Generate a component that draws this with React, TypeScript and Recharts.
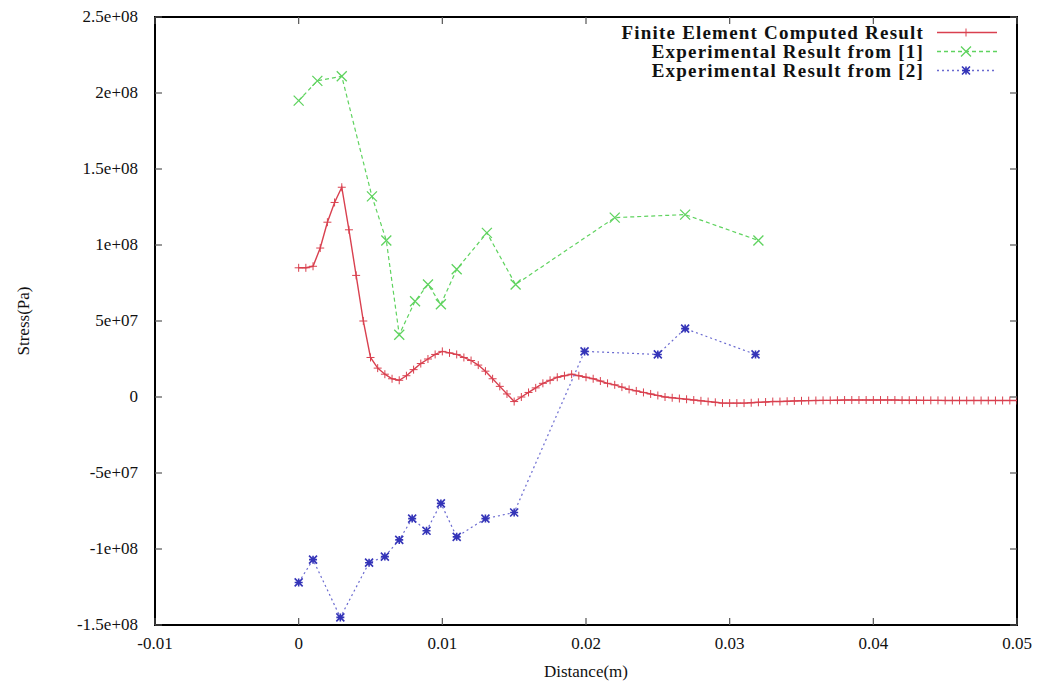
import React from 'react';
import { LineChart, Line, XAxis, YAxis, ReferenceArea } from 'recharts';

// finite element result, sampled every 0.5 mm
const femDistance = [
  0, 0.0005, 0.001, 0.0015, 0.002, 0.0025, 0.003, 0.0035, 0.004, 0.0045,
  0.005, 0.0055, 0.006, 0.0065, 0.007, 0.0075, 0.008, 0.0085, 0.009, 0.0095,
  0.01, 0.0105, 0.011, 0.0115, 0.012, 0.0125, 0.013, 0.0135, 0.014, 0.0145,
  0.015, 0.0155, 0.016, 0.0165, 0.017, 0.0175, 0.018, 0.0185, 0.019, 0.0195,
  0.02, 0.0205, 0.021, 0.0215, 0.022, 0.0225, 0.023, 0.0235, 0.024, 0.0245,
  0.025, 0.0255, 0.026, 0.0265, 0.027, 0.0275, 0.028, 0.0285, 0.029, 0.0295,
  0.03, 0.0305, 0.031, 0.0315, 0.032, 0.0325, 0.033, 0.0335, 0.034, 0.0345,
  0.035, 0.0355, 0.036, 0.0365, 0.037, 0.0375, 0.038, 0.0385, 0.039, 0.0395,
  0.04, 0.0405, 0.041, 0.0415, 0.042, 0.0425, 0.043, 0.0435, 0.044, 0.0445,
  0.045, 0.0455, 0.046, 0.0465, 0.047, 0.0475, 0.048, 0.0485, 0.049, 0.0495,
  0.05,
];
const femStress = [
  85e6, 85e6, 86e6, 98e6, 115e6, 128e6, 138e6, 110e6, 80e6, 50e6,
  26e6, 19e6, 15e6, 12e6, 11e6, 14e6, 18e6, 22e6, 25e6, 28e6,
  30e6, 29e6, 28e6, 26e6, 24e6, 21e6, 17e6, 12e6, 7e6, 2e6,
  -3e6, 0, 3e6, 6e6, 9e6, 11e6, 13e6, 14e6, 15e6, 14e6,
  13e6, 12e6, 10.5e6, 9e6, 8e6, 6.5e6, 5e6, 4e6, 3e6, 2e6,
  1e6, 0, -0.5e6, -1e6, -1.5e6, -2e6, -2.5e6, -3e6, -3.5e6, -4e6,
  -4e6, -4e6, -4e6, -3.8e6, -3.5e6, -3.3e6, -3e6, -3e6, -2.8e6, -2.6e6,
  -2.5e6, -2.4e6, -2.3e6, -2.2e6, -2.2e6, -2.1e6, -2e6, -2e6, -2e6, -2e6,
  -2e6, -2e6, -2e6, -2e6, -2.1e6, -2.1e6, -2.1e6, -2.2e6, -2.2e6, -2.2e6,
  -2.3e6, -2.3e6, -2.3e6, -2.3e6, -2.3e6, -2.3e6, -2.3e6, -2.3e6, -2.3e6, -2.3e6,
  -2.3e6,
];

// experimental result from [1]
const exp1Distance = [0, 0.0013, 0.003, 0.0051, 0.0061, 0.007, 0.0081, 0.009, 0.0099, 0.011, 0.0131, 0.0151, 0.022, 0.0269, 0.032];
const exp1Stress = [195e6, 208e6, 211e6, 132e6, 103e6, 41e6, 63e6, 74e6, 61e6, 84e6, 108e6, 74e6, 118e6, 120e6, 103e6];

// experimental result from [2]
const exp2Distance = [0, 0.001, 0.0029, 0.0049, 0.006, 0.007, 0.0079, 0.0089, 0.0099, 0.011, 0.013, 0.015, 0.0199, 0.025, 0.0269, 0.0318];
const exp2Stress = [-122e6, -107e6, -145e6, -109e6, -105e6, -94e6, -80e6, -88e6, -70e6, -92e6, -80e6, -76e6, 30e6, 28e6, 45e6, 28e6];

const xTicks = [-0.01, 0, 0.01, 0.02, 0.03, 0.04, 0.05];
const xTickLabels = ['-0.01', '0', '0.01', '0.02', '0.03', '0.04', '0.05'];
const yTicks = [2.5e8, 2e8, 1.5e8, 1e8, 5e7, 0, -5e7, -1e8, -1.5e8];
const yTickLabels = ['2.5e+08', '2e+08', '1.5e+08', '1e+08', '5e+07', '0', '-5e+07', '-1e+08', '-1.5e+08'];

const seriesNames = ['Finite Element Computed Result', 'Experimental Result from [1]', 'Experimental Result from [2]'];

const femData = femDistance.map((x, i) => ({ x, y: femStress[i] }));
const exp1Data = exp1Distance.map((x, i) => ({ x, y: exp1Stress[i] }));
const exp2Data = exp2Distance.map((x, i) => ({ x, y: exp2Stress[i] }));

const FONT = '"Liberation Serif", "DejaVu Serif", serif';
const RED = '#d9404f';
const GREEN = '#5fd35f';
const BLUE = '#3434b8';
const BLUE_LINE = '#6a6ad0';
const AXIS = '#000000';
const TICK_COLOR = '#555555';
const TEXT = '#111111';
const TICK = 7;

const labelFor = (ticks: number[], labels: string[], v: number) => {
  const i = ticks.findIndex((t) => Math.abs(t - v) <= 1e-9 * Math.max(1, Math.abs(t)));
  return i >= 0 ? labels[i] : String(v);
};

// tick label plus an inward tick mark drawn as a path
const BottomTick = (props: any) => {
  const { x, y, payload } = props;
  return (
    <g>
      <path d={`M${x},${y}V${y - TICK}`} stroke={TICK_COLOR} strokeWidth={1.2} fill="none" />
      <text x={x} y={y + 24} textAnchor="middle" fontFamily={FONT} fontSize={17} fill={TEXT}>
        {labelFor(xTicks, xTickLabels, payload.value)}
      </text>
    </g>
  );
};

const LeftTick = (props: any) => {
  const { x, y, payload } = props;
  return (
    <g>
      <path d={`M${x},${y}H${x + TICK}`} stroke={TICK_COLOR} strokeWidth={1.2} fill="none" />
      <text x={x - 17} y={y + 5} textAnchor="end" fontFamily={FONT} fontSize={17} fill={TEXT}>
        {labelFor(yTicks, yTickLabels, payload.value)}
      </text>
    </g>
  );
};

const TopTick = (props: any) => {
  const { x, y } = props;
  return <path d={`M${x},${y}V${y + TICK}`} stroke={TICK_COLOR} strokeWidth={1.2} fill="none" />;
};

const RightTick = (props: any) => {
  const { x, y } = props;
  return <path d={`M${x},${y}H${x - TICK}`} stroke={TICK_COLOR} strokeWidth={1.2} fill="none" />;
};

const PlusDot = (props: any) => {
  const { cx, cy, index } = props;
  if (cx == null || cy == null) return <g key={index} />;
  return <path key={index} d={`M${cx - 4},${cy}h8M${cx},${cy - 4}v8`} stroke={RED} strokeWidth={1} fill="none" />;
};

const CrossDot = (props: any) => {
  const { cx, cy, index } = props;
  if (cx == null || cy == null) return <g key={index} />;
  return <path key={index} d={`M${cx - 5},${cy - 5}l10,10M${cx - 5},${cy + 5}l10,-10`} stroke={GREEN} strokeWidth={1.3} fill="none" />;
};

const StarDot = (props: any) => {
  const { cx, cy, index } = props;
  if (cx == null || cy == null) return <g key={index} />;
  return (
    <path
      key={index}
      d={`M${cx - 4},${cy - 4}l8,8M${cx - 4},${cy + 4}l8,-8M${cx - 4},${cy}h8M${cx},${cy - 4}v8`}
      stroke={BLUE}
      strokeWidth={1.6}
      fill="none"
    />
  );
};

const legendStyles = [
  { color: RED, dash: undefined as string | undefined, Dot: PlusDot },
  { color: GREEN, dash: '4 3', Dot: CrossDot },
  { color: BLUE_LINE, dash: '2 3', Dot: StarDot },
];

// drawn outside the chart so it does not take space from the plot
const ChartLegend = () => (
  <div style={{ position: 'absolute', right: 59, top: 23, display: 'flex', flexDirection: 'column', fontFamily: FONT }}>
    {seriesNames.map((name, i) => {
      const s = legendStyles[i];
      const Dot = s.Dot;
      return (
        <div key={name} style={{ display: 'flex', alignItems: 'center', justifyContent: 'flex-end', height: 19 }}>
          <span style={{ fontSize: 19, fontWeight: 'bold', letterSpacing: '1.2px', color: TEXT, whiteSpace: 'nowrap', lineHeight: '19px' }}>
            {name}
          </span>
          <svg width={62} height={19} style={{ marginLeft: 12 }}>
            <line x1={1} y1={9.5} x2={61} y2={9.5} stroke={s.color} strokeWidth={1.3} strokeDasharray={s.dash} />
            <Dot cx={30} cy={9.5} index={0} />
          </svg>
        </div>
      );
    })}
  </div>
);

const AxisTitleY = (props: any) => {
  const vb = props.viewBox;
  const cx = 29;
  const cy = vb.y + vb.height / 2;
  return (
    <text x={cx} y={cy} transform={`rotate(-90, ${cx}, ${cy})`} textAnchor="middle" fontFamily={FONT} fontSize={17} fill={TEXT}>
      Stress(Pa)
    </text>
  );
};

const AxisTitleX = (props: any) => {
  const vb = props.viewBox;
  const cx = vb.x + vb.width / 2;
  return (
    <text x={cx} y={vb.y + 52} textAnchor="middle" fontFamily={FONT} fontSize={17} fill={TEXT}>
      Distance(m)
    </text>
  );
};

const axisLine = { stroke: AXIS, strokeWidth: 2 };

export default function App() {
  return (
    <div style={{ position: 'absolute', left: 0, top: 0, width: 1057, height: 683, background: '#ffffff' }}>
      <LineChart width={1057} height={683} margin={{ top: 16, right: 39, bottom: 0, left: 0 }}>
        <XAxis
          xAxisId="bottom"
          dataKey="x"
          type="number"
          domain={[-0.01, 0.05]}
          ticks={xTicks}
          tick={<BottomTick />}
          axisLine={axisLine}
          stroke={AXIS}
          tickLine={false}
          tickSize={0}
          tickMargin={0}
          height={58}
          allowDataOverflow
          label={<AxisTitleX />}
        />
        <XAxis
          xAxisId="top"
          orientation="top"
          dataKey="x"
          type="number"
          domain={[-0.01, 0.05]}
          ticks={xTicks}
          tick={<TopTick />}
          axisLine={axisLine}
          stroke={AXIS}
          tickLine={false}
          tickSize={0}
          tickMargin={0}
          height={1}
          allowDataOverflow
        />
        <YAxis
          yAxisId="left"
          type="number"
          domain={[-1.5e8, 2.5e8]}
          ticks={yTicks}
          tick={<LeftTick />}
          axisLine={axisLine}
          stroke={AXIS}
          tickLine={false}
          tickSize={0}
          tickMargin={0}
          width={155}
          allowDataOverflow
          label={<AxisTitleY />}
        />
        <YAxis
          yAxisId="right"
          orientation="right"
          type="number"
          domain={[-1.5e8, 2.5e8]}
          ticks={yTicks}
          tick={<RightTick />}
          axisLine={axisLine}
          stroke={AXIS}
          tickLine={false}
          tickSize={0}
          tickMargin={0}
          width={1}
          allowDataOverflow
        />
        <ReferenceArea
          xAxisId="bottom"
          yAxisId="left"
          x1={-0.01}
          x2={0.05}
          y1={-1.5e8}
          y2={2.5e8}
          fill="#ffffff"
          fillOpacity={0}
          stroke={AXIS}
          strokeWidth={2}
          ifOverflow="visible"
        />
        <Line
          xAxisId="bottom"
          yAxisId="left"
          data={femData}
          dataKey="y"
          name={seriesNames[0]}
          type="linear"
          stroke={RED}
          strokeWidth={1.4}
          dot={PlusDot}
          activeDot={false}
          isAnimationActive={false}
        />
        <Line
          xAxisId="bottom"
          yAxisId="left"
          data={exp1Data}
          dataKey="y"
          name={seriesNames[1]}
          type="linear"
          stroke={GREEN}
          strokeWidth={1.2}
          strokeDasharray="4 3"
          dot={CrossDot}
          activeDot={false}
          isAnimationActive={false}
        />
        <Line
          xAxisId="bottom"
          yAxisId="left"
          data={exp2Data}
          dataKey="y"
          name={seriesNames[2]}
          type="linear"
          stroke={BLUE_LINE}
          strokeWidth={1.2}
          strokeDasharray="2 3"
          dot={StarDot}
          activeDot={false}
          isAnimationActive={false}
        />
      </LineChart>
      <ChartLegend />
    </div>
  );
}
